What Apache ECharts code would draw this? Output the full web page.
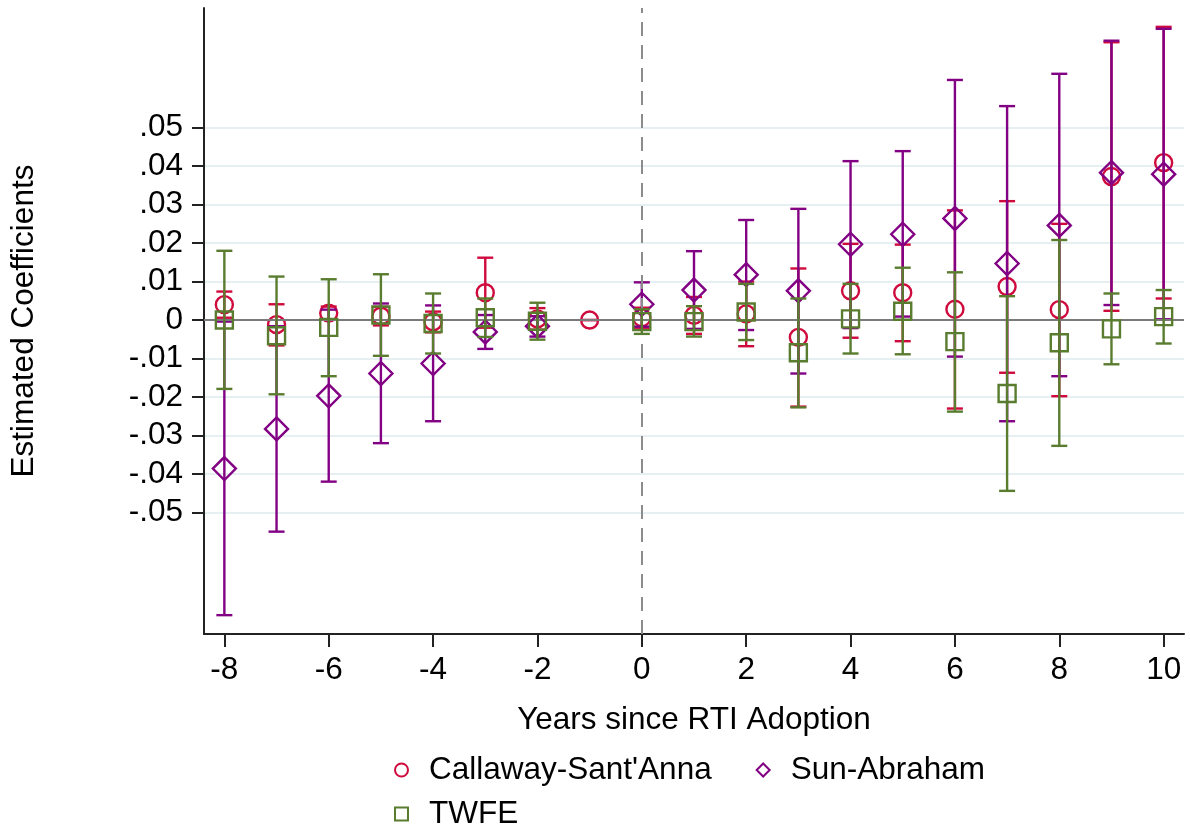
<!DOCTYPE html>
<html>
<head>
<meta charset="utf-8">
<script src="https://cdn.jsdelivr.net/npm/echarts@6/dist/echarts.min.js"></script>
<style>html,body{margin:0;padding:0;background:#fff;}#c{width:1190px;height:831px;}</style>
</head>
<body>
<div id="c"></div>
<script>
// ---- data ----
const years = [-8,-7,-6,-5,-4,-3,-2,-1,0,1,2,3,4,5,6,7,8,9,10];
const xTicks = [-8,-6,-4,-2,0,2,4,6,8,10];
const yTicks = [-0.05,-0.04,-0.03,-0.02,-0.01,0,0.01,0.02,0.03,0.04,0.05];

const csEst = [0.0040,-0.0012,0.0018,0.0010,-0.0005,0.0071,0.0003,0,0.0006,0.0012,0.0016,-0.0045,0.0076,0.0071,0.0028,0.0087,0.0027,0.0373,0.0409];
const csLo  = [0.0006,-0.0066,0.0001,-0.0014,-0.0032,-0.0020,-0.0025,0,-0.0020,-0.0036,-0.0068,-0.0225,-0.0046,-0.0055,-0.0230,-0.0137,-0.0198,0.0024,0.0056];
const csHi  = [0.0074,0.0041,0.0035,0.0034,0.0022,0.0162,0.0031,0,0.0032,0.0060,0.0100,0.0134,0.0198,0.0196,0.0285,0.0309,0.0250,0.0722,0.0762];

const saEst = [-0.0386,-0.0283,-0.0197,-0.0139,-0.0113,-0.0031,-0.0016,null,0.0041,0.0078,0.0118,0.0076,0.0197,0.0223,0.0264,0.0147,0.0246,0.0383,0.0379];
const saLo  = [-0.0767,-0.0550,-0.0420,-0.0320,-0.0263,-0.0075,-0.0043,null,-0.0017,-0.0023,-0.0026,-0.0139,-0.0021,0.0009,-0.0095,-0.0263,-0.0146,0.0039,0.0002];
const saHi  = [-0.0004,-0.0016,0.0027,0.0043,0.0038,0.0013,0.0010,null,0.0098,0.0179,0.0260,0.0289,0.0413,0.0439,0.0624,0.0556,0.0640,0.0726,0.0757];

const twEst = [0.0000,-0.0041,-0.0019,0.0013,-0.0009,0.0006,-0.0003,null,-0.0004,-0.0004,0.0021,-0.0085,0.0003,0.0023,-0.0056,-0.0191,-0.0059,-0.0023,0.0009];
const twLo  = [-0.0179,-0.0193,-0.0146,-0.0093,-0.0087,-0.0044,-0.0051,null,-0.0036,-0.0043,-0.0052,-0.0227,-0.0087,-0.0089,-0.0238,-0.0444,-0.0327,-0.0115,-0.0061];
const twHi  = [0.0180,0.0113,0.0106,0.0119,0.0069,0.0056,0.0045,null,0.0028,0.0036,0.0094,0.0056,0.0094,0.0136,0.0124,0.0062,0.0208,0.0069,0.0078];

const names = ["Callaway-Sant'Anna", "Sun-Abraham", "TWFE"];
const colors = ['#cf0a3c', '#820083', '#597c2f'];
const symbols = ['circle', 'diamond', 'rect'];
const symbolSizes = [[17,17], [23,23], [17,17]];

// ---- build ----
function pts(est) { return years.map((y,i) => est[i] === null ? null : [y, est[i]]).filter(Boolean); }
function bars(lo, hi) { return years.map((y,i) => lo[i] === null ? null : [y, lo[i], hi[i]]).filter(Boolean); }

function barRender(color) {
  return function (params, api) {
    const x = api.value(0);
    const pLo = api.coord([x, api.value(1)]);
    const pHi = api.coord([x, api.value(2)]);
    const hw = 8;
    const style = { stroke: color, lineWidth: 2.4, fill: null };
    return { type: 'group', children: [
      { type: 'line', shape: { x1: pLo[0], y1: pLo[1], x2: pHi[0], y2: pHi[1] }, style },
      { type: 'line', shape: { x1: pLo[0]-hw, y1: pLo[1], x2: pLo[0]+hw, y2: pLo[1] }, style },
      { type: 'line', shape: { x1: pHi[0]-hw, y1: pHi[1], x2: pHi[0]+hw, y2: pHi[1] }, style }
    ]};
  };
}

const allEst = [csEst, saEst, twEst], allLo = [csLo, saLo, twLo], allHi = [csHi, saHi, twHi];
const series = [];
// reference lines
series.push({
  type: 'line', data: [], silent: true, z: 1,
  markLine: {
    silent: true, symbol: 'none', label: { show: false }, animation: false,
    data: [
      { yAxis: 0, lineStyle: { color: '#7a7a7a', width: 2, type: 'solid' } },
      { xAxis: 0, lineStyle: { color: '#8c8c8c', width: 2, type: [14, 9] } }
    ]
  }
});
for (let k = 0; k < 3; k++) {
  series.push({
    type: 'custom', name: names[k] + ' CI', renderItem: barRender(colors[k]),
    data: bars(allLo[k], allHi[k]), silent: true, z: 2 + k * 2,
    encode: { x: 0, y: [1, 2] }
  });
  series.push({
    type: 'scatter', name: names[k], data: pts(allEst[k]), symbol: symbols[k],
    symbolSize: symbolSizes[k], z: 3 + k * 2, silent: true,
    itemStyle: { color: 'transparent', borderColor: colors[k], borderWidth: 2.4, opacity: 1 }
  });
}

function yFmt(v) {
  if (Math.abs(v) < 1e-9) return '0';
  return (v < 0 ? '-' : '') + Math.abs(v).toFixed(2).replace(/^0/, '');
}

const font = 'Liberation Sans, Arial, sans-serif';
const fs = 31.5;
const legendCommon = {
  orient: 'horizontal', left: 389, itemWidth: 13, itemHeight: 13, itemGap: 44,
  textStyle: { fontFamily: font, fontSize: fs, color: '#000', padding: [0, 0, 0, 16] },
  selectedMode: false
};

const chart = echarts.init(document.getElementById('c'), null, { renderer: 'canvas' });
chart.setOption({
  animation: false,
  backgroundColor: '#fff',
  grid: { left: 202, right: 6, top: 8, bottom: 197, containLabel: false },
  xAxis: {
    type: 'value', min: -8.39, max: 10.39,
    name: 'Years since RTI Adoption', nameLocation: 'middle', nameGap: 70,
    nameTextStyle: { fontFamily: font, fontSize: fs, color: '#000' },
    axisLine: { show: true, onZero: false, lineStyle: { color: '#222', width: 2 } },
    axisTick: { show: true, length: 13, customValues: xTicks, lineStyle: { color: '#222', width: 2 } },
    axisLabel: { customValues: xTicks, fontFamily: font, fontSize: fs, color: '#000', margin: 20 },
    splitLine: { show: false }
  },
  yAxis: {
    type: 'value', min: -0.0816, max: 0.0811,
    name: 'Estimated Coefficients', nameLocation: 'middle', nameGap: 164, nameRotate: 90,
    nameTextStyle: { fontFamily: font, fontSize: fs, color: '#000' },
    axisLine: { show: true, onZero: false, lineStyle: { color: '#222', width: 2 } },
    axisTick: { show: true, length: 12, customValues: yTicks, lineStyle: { color: '#222', width: 2 } },
    axisLabel: { customValues: yTicks, formatter: yFmt, fontFamily: font, fontSize: fs, color: '#000', margin: 21 },
    splitLine: { show: true, lineStyle: { color: '#e6eff1', width: 2 } }
  },
  legend: [
    Object.assign({}, legendCommon, { data: [names[0], names[1]], top: 749 }),
    Object.assign({}, legendCommon, { data: [names[2]], top: 793 })
  ],
  series: series
});
</script>
</body>
</html>
